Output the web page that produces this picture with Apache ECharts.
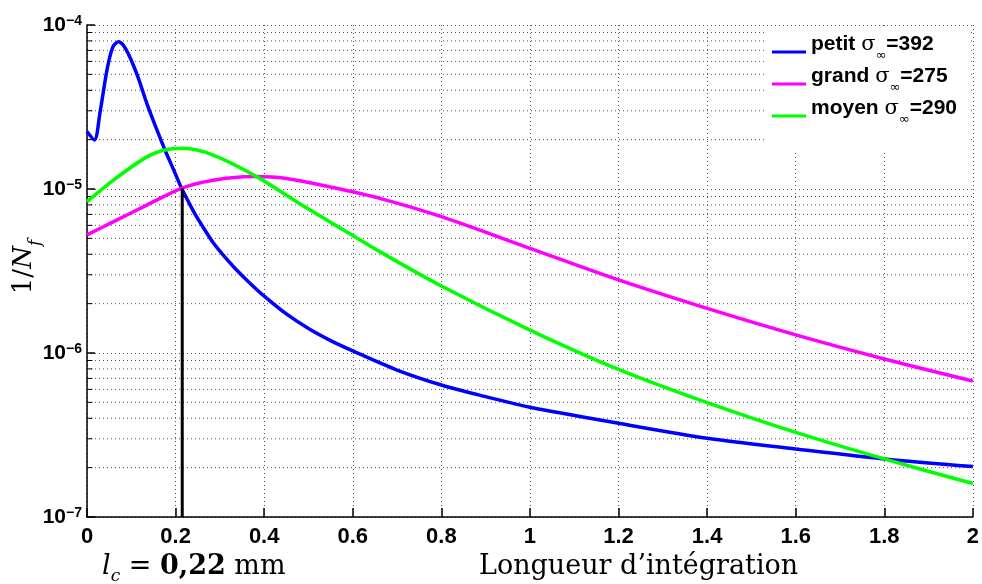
<!DOCTYPE html>
<html>
<head>
<meta charset="utf-8">
<script src="https://cdn.jsdelivr.net/npm/echarts@6/dist/echarts.min.js"></script>
<style>
  html, body { margin: 0; padding: 0; background: #fff; }
  #chart { width: 982px; height: 584px; }
</style>
</head>
<body>
<div id="chart"></div>
<script>
// valeurs (1/Nf en fonction de la longueur d'integration)
var petitX = [0, 0.0165, 0.03, 0.045, 0.058, 0.071, 0.088, 0.112, 0.135, 0.155, 0.176, 0.195, 0.2135, 0.23, 0.247, 0.265, 0.285, 0.31, 0.334, 0.365, 0.4, 0.45, 0.5, 0.55, 0.6, 0.7, 0.8, 0.9, 1.0, 1.2, 1.4, 1.6, 1.8, 2.0];
var petitY = [2.24e-5, 1.99e-5, 3.0e-5, 5.3e-5, 7.3e-5, 7.9e-5, 7.1e-5, 5.07e-5, 3.33e-5, 2.4e-5, 1.73e-5, 1.32e-5, 1.01e-5, 8.26e-6, 6.8e-6, 5.68e-6, 4.7e-6, 3.88e-6, 3.29e-6, 2.71e-6, 2.22e-6, 1.73e-6, 1.41e-6, 1.19e-6, 1.03e-6, 7.87e-7, 6.38e-7, 5.42e-7, 4.67e-7, 3.73e-7, 3.02e-7, 2.6e-7, 2.26e-7, 2.03e-7];

var grandX = [0, 0.059, 0.135, 0.2135, 0.285, 0.375, 0.45, 0.548, 0.661, 0.8, 1.0, 1.2, 1.4, 1.6, 1.8, 2.0];
var grandY = [5.25e-6, 6.3e-6, 7.98e-6, 1.01e-5, 1.13e-5, 1.19e-5, 1.16e-5, 1.03e-5, 8.77e-6, 6.78e-6, 4.35e-6, 2.79e-6, 1.87e-6, 1.29e-6, 9.2e-7, 6.75e-7];

var moyenX = [0, 0.059, 0.135, 0.176, 0.217, 0.285, 0.383, 0.473, 0.548, 0.661, 0.8, 1.0, 1.2, 1.4, 1.6, 1.8, 2.0];
var moyenY = [8.37e-6, 1.13e-5, 1.57e-5, 1.73e-5, 1.77e-5, 1.61e-5, 1.19e-5, 8.37e-6, 6.32e-6, 4.15e-6, 2.56e-6, 1.38e-6, 7.94e-7, 4.98e-7, 3.28e-7, 2.26e-7, 1.6e-7];

// trait vertical l_c
var lcX = [0.215, 0.215];
var lcY = [1e-7, 1.01e-5];

var legendNames = ['petit', 'grand', 'moyen'];
var sigmaInf = [392, 275, 290];
var colors = ['#0000ff', '#ff00ff', '#00ff00'];

// graduations secondaires de l'axe log (2..9 x 10^k)
var minorY = [];
[1e-7, 1e-6, 1e-5].forEach(function (d) {
  for (var k = 2; k <= 9; k++) minorY.push(+(k * d).toPrecision(3));
});
var xRange = [0, 2];
var minorTickX = [0, 0.012];

function pairs(xs, ys) {
  return xs.map(function (x, i) { return [x, ys[i]]; });
}

var seriesNames = legendNames.map(function (n, i) { return n + ' σ∞=' + sigmaInf[i]; });
var allX = [petitX, grandX, moyenX];
var allY = [petitY, grandY, moyenY];

var series = [];

// grille mineure en pointillés + petits traits sur l'axe gauche
minorY.forEach(function (v) {
  series.push({
    type: 'line',
    data: [[xRange[0], v], [xRange[1], v]],
    showSymbol: false,
    silent: true,
    lineStyle: { color: '#555', width: 1, type: [1, 3] },
    z: 1
  });
  series.push({
    type: 'line',
    data: [[minorTickX[0], v], [minorTickX[1], v]],
    showSymbol: false,
    silent: true,
    lineStyle: { color: '#000', width: 1 },
    z: 1
  });
});

seriesNames.forEach(function (name, i) {
  series.push({
    name: name,
    type: 'line',
    data: pairs(allX[i], allY[i]),
    smooth: 0.3,
    showSymbol: false,
    lineStyle: { color: colors[i], width: 3.5 },
    itemStyle: { color: colors[i] },
    z: 3
  });
});

series.push({
  name: 'lc',
  type: 'line',
  data: pairs(lcX, lcY),
  showSymbol: false,
  lineStyle: { color: '#000', width: 3 },
  z: 3
});

var chart = echarts.init(document.getElementById('chart'));
chart.setOption({
  animation: false,
  backgroundColor: '#fff',
  grid: { left: 87, right: 8, top: 25, bottom: 67, containLabel: false },
  legend: {
    data: seriesNames,
    orient: 'vertical',
    left: 765,
    top: 25,
    padding: [9, 14, 0, 7],
    itemWidth: 34,
    itemHeight: 3,
    itemGap: 4,
    icon: 'rect',
    z: 60,
    formatter: function (name) {
      var i = seriesNames.indexOf(name);
      return '{b|' + legendNames[i] + ' }{s|σ}{sub|∞}{b|=' + sigmaInf[i] + '}';
    },
    textStyle: {
      rich: {
        b: { fontFamily: 'Liberation Sans', fontWeight: 'bold', fontSize: 21, color: '#000', lineHeight: 36, verticalAlign: 'top' },
        s: { fontFamily: 'DejaVu Serif', fontSize: 21, color: '#000', lineHeight: 36, verticalAlign: 'top' },
        sub: { fontFamily: 'DejaVu Sans', fontSize: 13, color: '#000', lineHeight: 36, verticalAlign: 'top', padding: [15, 0, 0, 0] }
      }
    }
  },
  xAxis: {
    type: 'value',
    min: 0,
    max: 2,
    interval: 0.2,
    axisLine: { onZero: false, lineStyle: { color: '#000', width: 1.5 } },
    axisTick: { inside: true, length: 9, lineStyle: { color: '#000', width: 1.5 } },
    axisLabel: { color: '#000', fontFamily: 'Liberation Sans', fontWeight: 'bold', fontSize: 22, margin: 9 },
    splitLine: { show: true, lineStyle: { color: '#555', width: 1, type: [1, 3] } }
  },
  yAxis: {
    type: 'log',
    logBase: 10,
    min: 1e-7,
    max: 1e-4,
    axisLine: { show: true, lineStyle: { color: '#000', width: 1.5 } },
    axisTick: { show: true, inside: true, length: 8, lineStyle: { color: '#000', width: 1.5 } },
    axisLabel: {
      margin: 5,
      formatter: function (v) {
        var e = Math.round(Math.log10(v));
        return '{b|10}{s|−' + (-e) + '}';
      },
      rich: {
        b: { fontFamily: 'Liberation Sans', fontWeight: 'bold', fontSize: 21, color: '#000', lineHeight: 22, padding: [5, 0, 0, 0], verticalAlign: 'bottom' },
        s: { fontFamily: 'Liberation Sans', fontWeight: 'bold', fontSize: 14, color: '#000', lineHeight: 14, verticalAlign: 'top' }
      }
    },
    splitLine: { show: true, lineStyle: { color: '#555', width: 1, type: [1, 3] } }
  },
  graphic: [
    {
      // fond blanc de la légende
      type: 'rect',
      z: 50,
      silent: true,
      shape: { x: 766, y: 27, width: 205, height: 123 },
      style: { fill: '#fff' }
    },
    {
      type: 'text',
      x: 30,
      y: 267,
      rotation: Math.PI / 2,
      style: {
        text: '{r|1/}{i|N}{f|f}',
        align: 'center',
        verticalAlign: 'middle',
        rich: {
          r: { fontFamily: 'DejaVu Serif', fontSize: 26, fill: '#000', lineHeight: 38, verticalAlign: 'top' },
          i: { fontFamily: 'DejaVu Serif', fontStyle: 'italic', fontSize: 26, fill: '#000', lineHeight: 38, verticalAlign: 'top' },
          f: { fontFamily: 'DejaVu Serif', fontStyle: 'italic', fontSize: 17, fill: '#000', lineHeight: 38, verticalAlign: 'top', padding: [16, 0, 0, 0] }
        }
      }
    },
    {
      type: 'text',
      left: 102,
      top: 553,
      style: {
        text: '{l|l}{c|c}{r| = }{bd|0,22}{r| mm}',
        rich: {
          l: { fontFamily: 'DejaVu Serif', fontStyle: 'italic', fontSize: 27, fill: '#000', lineHeight: 36, verticalAlign: 'top' },
          c: { fontFamily: 'DejaVu Serif', fontStyle: 'italic', fontSize: 17, fill: '#000', lineHeight: 36, verticalAlign: 'top', padding: [15, 0, 0, 0] },
          r: { fontFamily: 'DejaVu Serif', fontSize: 27, fill: '#000', lineHeight: 36, verticalAlign: 'top' },
          bd: { fontFamily: 'DejaVu Serif', fontWeight: 'bold', fontSize: 27, fill: '#000', lineHeight: 36, verticalAlign: 'top' }
        }
      }
    },
    {
      type: 'text',
      left: 479,
      top: 553,
      style: {
        text: 'Longueur d\u2019intégration',
        fontFamily: 'DejaVu Serif',
        fontSize: 27,
        fill: '#000'
      }
    }
  ],
  series: series
});
</script>
</body>
</html>
